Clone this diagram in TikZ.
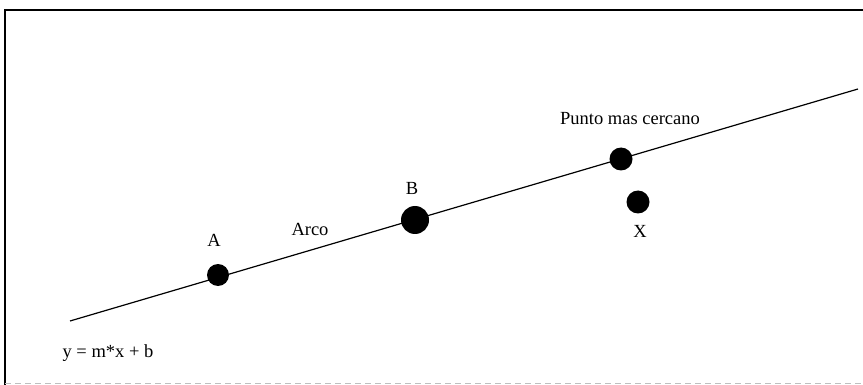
\documentclass[tikz,border=0pt]{standalone}
\usepackage{fontspec}
\setmainfont{Liberation Serif}
\begin{document}
\begin{tikzpicture}[x=1pt,y=-1pt,
  dot/.style={circle,fill=black,inner sep=0pt,minimum size=#1},
  lbl/.style={font=\fontsize{18.5}{22}\selectfont,inner sep=0pt}]
\useasboundingbox (0,0) rectangle (863,385);
\draw[line width=1.8pt] (5,385) -- (5,10) -- (863,10);
\draw[gray!50,line width=0.8pt,dash pattern=on 6pt off 4pt] (5,383) -- (863,383);
\coordinate (L0) at (70,321);
\coordinate (L1) at (858,89);
\draw[line width=1.2pt] (L0) -- (L1);
\node[dot=22pt] (A) at (218,275) {};
\node[dot=28pt] (B) at (415,220) {};
\node[dot=23pt] (P) at (621,159) {};
\node[dot=23pt] (X) at (638,202) {};
\node[lbl] (tA) at (214,240) {A};
\node[lbl] (tArco) at (310,229) {Arco};
\node[lbl] (tB) at (412,188) {B};
\node[lbl] (tP) at (630,119) {Punto mas cercano};
\node[lbl] (tX) at (640,231) {X};
\node[lbl] (tEq) at (108,353) {y = m*x + b};
\end{tikzpicture}
\end{document}
